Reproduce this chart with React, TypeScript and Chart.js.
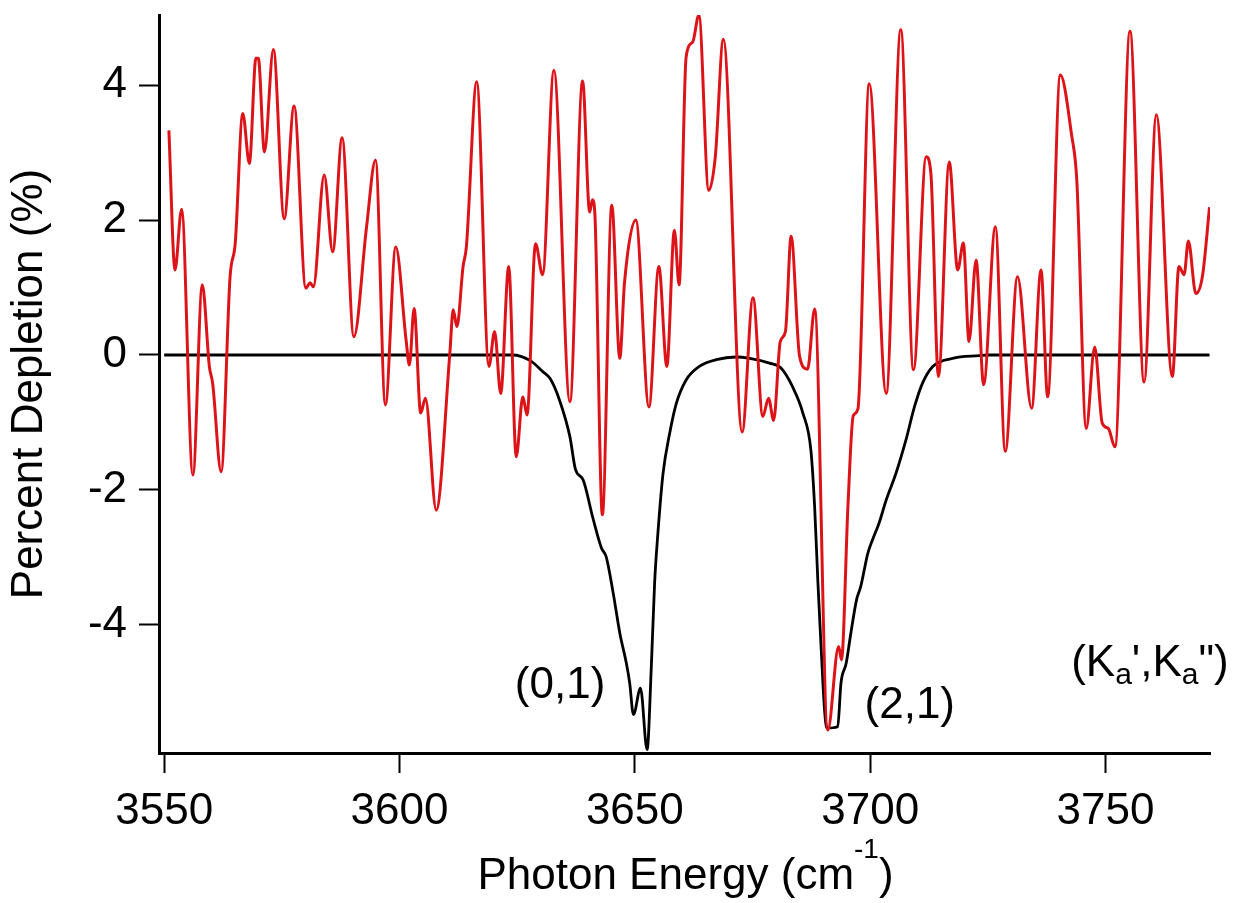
import React, { useEffect, useRef } from "react";
import { Chart, registerables } from "chart.js";

Chart.register(...registerables);

const FONT = "'Liberation Sans', Arial, Helvetica, sans-serif";

// Measured depletion spectrum (red)
const depletionX = [
  3551.0, 3552.3, 3553.7, 3556.1, 3558.1, 3559.6, 3560.3, 3562.1, 3564.0, 3565.1,
  3566.7, 3568.1, 3569.5, 3570.0, 3571.3, 3573.2, 3575.5, 3577.6, 3580.1, 3581.0,
  3581.7, 3584.0, 3585.8, 3587.8, 3590.3, 3593.0, 3594.9, 3597.0, 3599.2, 3601.4,
  3602.1, 3603.1, 3604.5, 3605.5, 3607.8, 3610.7, 3611.4, 3612.2, 3613.5, 3614.2,
  3616.4, 3619.0, 3620.2, 3621.5, 3623.2, 3624.8, 3626.2, 3627.1, 3628.9, 3630.4,
  3632.8, 3636.2, 3638.9, 3640.4, 3641.0, 3641.5, 3643.1, 3645.1, 3646.8, 3647.8,
  3650.2, 3653.0, 3655.1, 3656.8, 3658.4, 3659.4, 3660.9, 3662.3, 3663.6, 3665.7,
  3667.1, 3668.8, 3672.8, 3675.1, 3677.2, 3678.4, 3679.5, 3680.9, 3682.0, 3683.2,
  3685.0, 3686.7, 3688.2, 3691.0, 3693.3, 3693.9, 3695.3, 3696.4, 3697.4, 3699.8,
  3703.4, 3706.5, 3709.2, 3711.9, 3712.9, 3714.5, 3716.8, 3718.6, 3719.8, 3721.0,
  3722.5, 3724.1, 3726.6, 3728.7, 3731.3, 3734.3, 3736.3, 3737.7, 3740.4, 3742.8,
  3743.9, 3745.9, 3747.7, 3749.3, 3750.6, 3752.0, 3755.2, 3758.2, 3760.8, 3764.2,
  3765.6, 3766.7, 3767.6, 3769.2, 3770.6, 3772.1,
];
const depletionY = [
  3.33, 1.26, 2.16, -1.78, 1.04, -0.17, -0.42, -1.73, 1.16, 1.66,
  3.58, 2.84, 4.4, 4.4, 3.01, 4.53, 2.02, 3.69, 0.99, 1.07,
  1.01, 2.67, 1.53, 3.22, 0.27, 1.9, 2.89, -0.74, 1.6, 0.22,
  -0.15, 0.69, -0.86, -0.64, -2.3, 0.03, 0.67, 0.42, 1.31, 1.6,
  4.05, -0.17, 0.35, -0.57, 1.31, -1.51, -0.62, -0.89, 1.65, 1.19,
  4.22, -0.69, 4.06, 2.12, 2.3, 2.1, -2.37, 2.22, -0.05, 1.07,
  2.0, -0.77, 1.31, -0.17, 1.85, 1.04, 4.42, 4.64, 5.04, 2.44,
  2.94, 4.68, -1.14, 0.85, -0.91, -0.64, -0.97, 0.2, 0.35, 1.76,
  -0.02, -0.21, 0.68, -5.56, -4.32, -4.52, -2.2, -0.9, -0.8, 4.02,
  -0.57, 4.82, -0.22, 2.94, 2.69, -0.32, 2.86, 1.26, 1.66, 0.2,
  1.41, -0.44, 1.9, -1.43, 1.16, -0.79, 1.26, -0.62, 4.15, 3.26,
  2.59, -1.09, 0.12, -1.01, -1.09, -1.36, 4.8, -0.4, 3.56, -0.32,
  1.31, 1.19, 1.69, 0.91, 1.17, 2.19,
];

// Simulated spectrum (black)
const simulationX = [
  3550.0, 3624.0, 3627.7, 3630.5, 3632.0, 3634.0, 3636.2, 3637.4, 3639.0, 3641.1,
  3642.9, 3643.9, 3645.4, 3646.8, 3648.2, 3648.9, 3649.7, 3651.2, 3652.6, 3653.5,
  3654.2, 3654.9, 3656.0, 3657.4, 3658.8, 3660.9, 3663.7, 3667.3, 3671.5, 3674.4,
  3678.6, 3681.0, 3683.5, 3685.7, 3687.4, 3688.2, 3688.9, 3689.6, 3690.3, 3690.8,
  3693.1, 3693.8, 3694.9, 3695.9, 3697.1, 3698.0, 3699.5, 3700.5, 3701.9, 3703.4,
  3705.5, 3707.6, 3709.4, 3711.1, 3713.3, 3717.5, 3723.2, 3725.0, 3772.1,
];
const simulationY = [
  0, 0, -0.08, -0.25, -0.35, -0.67, -1.21, -1.7, -1.85, -2.42,
  -2.86, -2.99, -3.53, -4.12, -4.57, -4.86, -5.33, -4.94, -5.85, -4.62,
  -3.38, -2.64, -1.75, -1.16, -0.72, -0.37, -0.17, -0.07, -0.03, -0.05,
  -0.12, -0.19, -0.47, -0.86, -1.41, -2.25, -3.38, -4.37, -5.26, -5.53,
  -5.51, -4.86, -4.57, -4.12, -3.63, -3.43, -2.94, -2.74, -2.49, -2.15,
  -1.75, -1.26, -0.77, -0.42, -0.17, -0.05, -0.01, 0, 0,
];

const xTickValues = [3550, 3600, 3650, 3700, 3750];
const xTickLabels = ["3550", "3600", "3650", "3700", "3750"];
const yTickValues = [-4, -2, 0, 2, 4];
const yTickLabels = ["-4", "-2", "0", "2", "4"];

const xAxisTitle = "Photon Energy (cm";
const xAxisTitleSup = "-1";
const xAxisTitleEnd = ")";
const yAxisTitle = "Percent Depletion (%)";

const bandLabels = ["(0,1)", "(2,1)"];
const bandLabelX = [3624.5, 3698.8];
const bandLabelY = [-5.08, -5.38];

const kaLabelParts = [
  { t: "(", sub: false },
  { t: "K", sub: false },
  { t: "a", sub: true },
  { t: "'", sub: false },
  { t: ",", sub: false },
  { t: "K", sub: false },
  { t: "a", sub: true },
  { t: "\"", sub: false },
  { t: ")", sub: false },
];
const kaLabelX = 3742.7;
const kaLabelY = -4.76;

const textPlugin = {
  id: "extraText",
  afterDraw(chart: any) {
    const ctx = chart.ctx as CanvasRenderingContext2D;
    const xs = chart.scales.x;
    const ys = chart.scales.y;
    ctx.save();
    ctx.fillStyle = "#000";
    ctx.textAlign = "left";
    ctx.textBaseline = "alphabetic";
    ctx.font = `44px ${FONT}`;
    bandLabels.forEach((t, i) => {
      ctx.fillText(t, xs.getPixelForValue(bandLabelX[i]), ys.getPixelForValue(bandLabelY[i]));
    });

    let x = xs.getPixelForValue(kaLabelX);
    const base = ys.getPixelForValue(kaLabelY);
    for (const p of kaLabelParts) {
      ctx.font = p.sub ? `30px ${FONT}` : `44px ${FONT}`;
      ctx.fillText(p.t, x, p.sub ? base + 8 : base);
      x += ctx.measureText(p.t).width;
    }

    // x-axis title with superscript
    const { left, right } = chart.chartArea;
    ctx.font = `44px ${FONT}`;
    const w1 = ctx.measureText(xAxisTitle).width;
    const w3 = ctx.measureText(xAxisTitleEnd).width;
    ctx.font = `28px ${FONT}`;
    const w2 = ctx.measureText(xAxisTitleSup).width;
    const total = w1 + w2 + w3;
    let tx = (left + right) / 2 - total / 2 + 1;
    const tb = chart.height - 14;
    ctx.font = `44px ${FONT}`;
    ctx.fillText(xAxisTitle, tx, tb);
    tx += w1;
    ctx.font = `28px ${FONT}`;
    ctx.fillText(xAxisTitleSup, tx, tb - 31);
    tx += w2;
    ctx.font = `44px ${FONT}`;
    ctx.fillText(xAxisTitleEnd, tx, tb);
    ctx.restore();
  },
};

export default function App() {
  const canvasRef = useRef<HTMLCanvasElement | null>(null);

  useEffect(() => {
    document.body.style.margin = "0";
    const canvas = canvasRef.current;
    if (!canvas) return;
    Chart.defaults.font.family = FONT;
    const chart = new Chart(canvas, {
      type: "line",
      data: {
        datasets: [
          {
            label: "Depletion",
            data: depletionX.map((x, i) => ({ x, y: depletionY[i] })),
            borderColor: "#dc1419",
            borderWidth: 3,
            pointRadius: 0,
            fill: false,
            cubicInterpolationMode: "monotone",
          },
          {
            label: "Simulation",
            data: simulationX.map((x, i) => ({ x, y: simulationY[i] })),
            borderColor: "#000000",
            borderWidth: 2.8,
            pointRadius: 0,
            fill: false,
            cubicInterpolationMode: "monotone",
          },
        ],
      },
      options: {
        animation: false,
        responsive: false,
        devicePixelRatio: 1,
        layout: { padding: { top: 15, right: 25, left: 0, bottom: 0 } },
        plugins: {
          legend: { display: false },
          tooltip: { enabled: false },
        },
        scales: {
          x: {
            type: "linear",
            position: "bottom",
            min: 3548.9,
            max: 3772.2,
            afterBuildTicks: (scale: any) => {
              scale.ticks = xTickValues.map((v) => ({ value: v }));
            },
            afterFit: (scale: any) => {
              scale.height = 150;
              scale.paddingLeft = 0;
              scale.paddingRight = 0;
            },
            grid: {
              drawOnChartArea: false,
              drawTicks: true,
              tickLength: 20,
              tickWidth: 2,
              tickColor: "#000",
            },
            border: { display: true, color: "#000", width: 3 },
            ticks: {
              color: "#000",
              font: { size: 44, family: FONT },
              padding: 12,
              maxRotation: 0,
              autoSkip: false,
              callback: (v: any) => {
                const i = xTickValues.indexOf(Number(v));
                return i >= 0 ? xTickLabels[i] : "";
              },
            },
          },
          y: {
            type: "linear",
            min: -5.9,
            max: 5.04,
            afterBuildTicks: (scale: any) => {
              scale.ticks = yTickValues.map((v) => ({ value: v }));
            },
            afterFit: (scale: any) => {
              scale.width = 159;
              scale.paddingTop = 0;
              scale.paddingBottom = 0;
            },
            grid: {
              drawOnChartArea: false,
              drawTicks: true,
              tickLength: 20,
              tickWidth: 2,
              tickColor: "#000",
            },
            border: { display: true, color: "#000", width: 3 },
            ticks: {
              color: "#000",
              font: { size: 44, family: FONT },
              padding: 12,
              autoSkip: false,
              callback: (v: any) => {
                const i = yTickValues.indexOf(Number(v));
                return i >= 0 ? yTickLabels[i] : "";
              },
            },
            title: {
              display: true,
              text: yAxisTitle,
              color: "#000",
              font: { size: 44, family: FONT },
              padding: { top: 3, bottom: 0 },
            },
          },
        },
      },
      plugins: [textPlugin],
    } as any);
    return () => chart.destroy();
  }, []);

  return (
    <div style={{ position: "absolute", left: 0, top: 0, width: 1235, height: 903 }}>
      <canvas ref={canvasRef} width={1235} height={903} style={{ width: 1235, height: 903, display: "block" }} />
    </div>
  );
}
